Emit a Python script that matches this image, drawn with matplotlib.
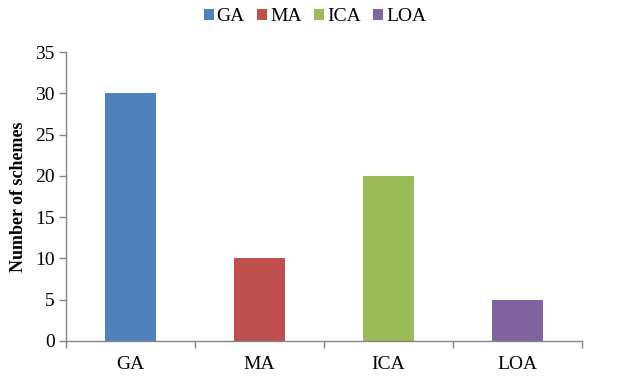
import matplotlib
matplotlib.use("Agg")
import matplotlib.pyplot as plt
from matplotlib.patches import Patch

categories = ["GA", "MA", "ICA", "LOA"]
values = [30, 10, 20, 5]
colors = ["#4F81BD", "#C0504D", "#9BBB59", "#8064A2"]
yticks = [0, 5, 10, 15, 20, 25, 30, 35]

plt.rcParams["font.family"] = ["Liberation Serif", "DejaVu Serif"]

fig = plt.figure(figsize=(6.2, 3.77), dpi=100)
ax = fig.add_axes([0.1065, 0.0955, 0.832, 0.7665])

x = list(range(len(categories)))
ax.bar(x, values, width=0.4, color=colors, zorder=2)

ax.set_xlim(-0.5, len(categories) - 0.5)
ax.set_ylim(0, 35)
ax.set_yticks(yticks)
ax.set_xticks(x)
ax.set_xticklabels(categories)
ax.tick_params(axis="x", length=0, pad=11, labelsize=14)
ax.tick_params(axis="y", length=5, width=1, color="#868686", pad=3, labelsize=14)
# category separators on the x axis
ax.set_xticks([i - 0.5 for i in range(len(categories) + 1)], minor=True)
ax.tick_params(axis="x", which="minor", length=5, width=1, color="#868686", direction="out")

for side in ("top", "right"):
    ax.spines[side].set_visible(False)
for side in ("left", "bottom"):
    ax.spines[side].set_color("#868686")
    ax.spines[side].set_linewidth(1)

ax.set_ylabel("Number of schemes", fontsize=13, fontweight="bold", labelpad=6)

handles = [Patch(facecolor=c, label=l) for c, l in zip(colors, categories)]
fig.legend(handles=handles, loc="center", bbox_to_anchor=(0.508, 0.955), ncol=4,
           frameon=False, fontsize=14, handlelength=0.5, handleheight=0.5,
           handletextpad=0.15, columnspacing=0.65, borderpad=0)

fig.savefig("out.png", dpi=100)
